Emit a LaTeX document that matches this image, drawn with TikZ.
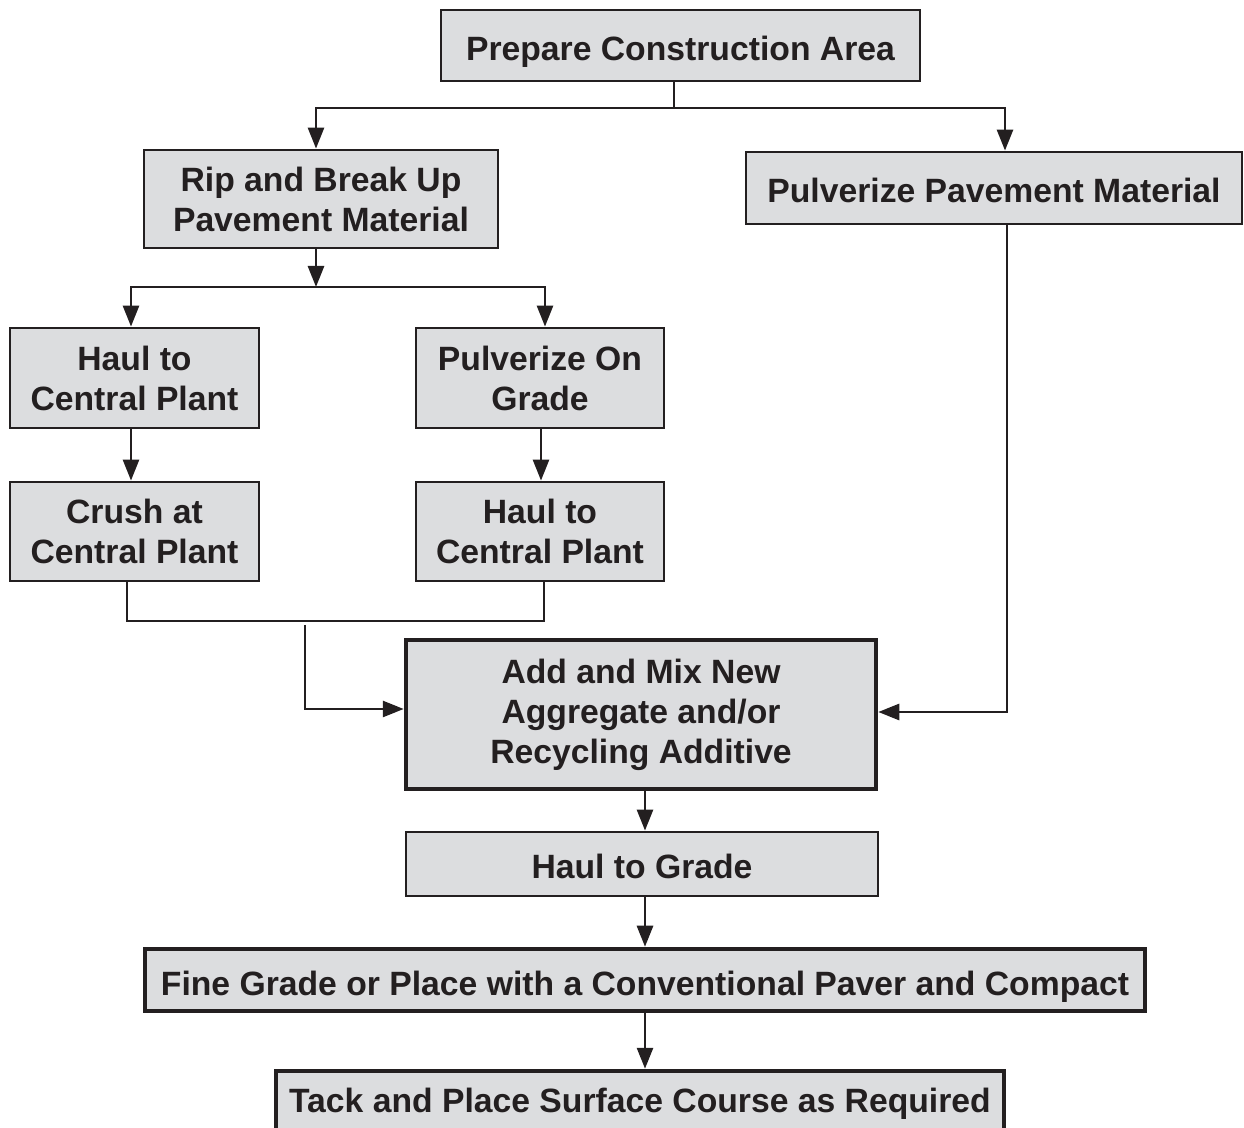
\documentclass[tikz,border=0pt]{standalone}
\usepackage{fontspec}
\setmainfont{Liberation Sans}
\usetikzlibrary{arrows.meta}
\definecolor{boxfill}{HTML}{DCDDDF}
\definecolor{ink}{HTML}{231F20}
\begin{document}
\begin{tikzpicture}[x=1pt,y=1pt,
  box/.style={draw=ink,fill=boxfill,line width=2.8pt,rectangle,inner sep=0pt,
    align=center,text=ink,font=\fontsize{33.7}{40}\selectfont\bfseries},
  oneline/.style={text height=30pt,text depth=0pt},
  thickbox/.style={box,line width=4.5pt},
  conn/.style={draw=ink,line width=2.8pt},
  arr/.style={conn,-{Triangle[length=21pt,width=16pt]}}]
\useasboundingbox (0,0) rectangle (1244,1127);
\node[box,oneline,minimum width=479,minimum height=71] (prep) at (680.5,1081.5) {Prepare Construction Area};
\node[box,minimum width=354,minimum height=98] (rip) at (321,928) {Rip and Break Up\\Pavement Material};
\node[box,oneline,minimum width=496,minimum height=72] (pulv) at (994,939) {Pulverize Pavement Material};
\node[box,minimum width=249,minimum height=100] (haulL) at (134.5,749) {Haul to\\Central Plant};
\node[box,minimum width=248,minimum height=100] (pog) at (540,749) {Pulverize On\\Grade};
\node[box,minimum width=249,minimum height=99] (crush) at (134.5,595.5) {Crush at\\Central Plant};
\node[box,minimum width=248,minimum height=99] (haulR) at (540,595.5) {Haul to\\Central Plant};
\node[thickbox,minimum width=470,minimum height=149] (mix) at (641,412.5) {Add and Mix New\\Aggregate and/or\\Recycling Additive};
\node[box,oneline,minimum width=472,minimum height=64] (hgrade) at (642,263) {Haul to Grade};
\node[thickbox,oneline,minimum width=1000,minimum height=62] (fine) at (645,147) {Fine Grade or Place with a Conventional Paver and Compact};
\node[thickbox,text height=30pt,text depth=12pt,minimum width=728,minimum height=64] (tack) at (640,24) {Tack and Place Surface Course as Required};
% connectors
\coordinate (j1) at (674,1019);
\draw[conn] (prep.south -| j1) -- (j1);
\draw[arr] (j1) -| ([xshift=-5pt]rip.north);
\draw[arr] (j1) -| ([xshift=11pt]pulv.north);
\coordinate (j2) at (316,840);
\draw[arr] (rip.south -| j2) -- (j2);
\draw[arr] (j2) -| ([xshift=-3.5pt]haulL.north);
\draw[arr] (j2) -| ([xshift=5pt]pog.north);
\draw[arr] ([xshift=-3.5pt]haulL.south) -- ([xshift=-3.5pt]crush.north);
\draw[arr] ([xshift=1pt]pog.south) -- ([xshift=1pt]haulR.north);
\coordinate (j3) at (0,506);
\draw[conn] ([xshift=-7.5pt]crush.south) -- ([xshift=-7.5pt]crush.south |- j3) -| ([xshift=4pt]haulR.south);
\coordinate (m1) at (305,502);
\draw[arr] (m1) |- ([yshift=5.5pt]mix.west);
\draw[arr] ([xshift=13pt]pulv.south) |- ([yshift=2.5pt]mix.east);
\draw[arr] ([xshift=4pt]mix.south) -- ([xshift=4pt]mix.south |- hgrade.north);
\draw[arr] ([xshift=3pt]hgrade.south) -- ([xshift=3pt]hgrade.south |- fine.north);
\draw[arr] (fine.south) -- (fine.south |- tack.north);
\end{tikzpicture}
\end{document}
